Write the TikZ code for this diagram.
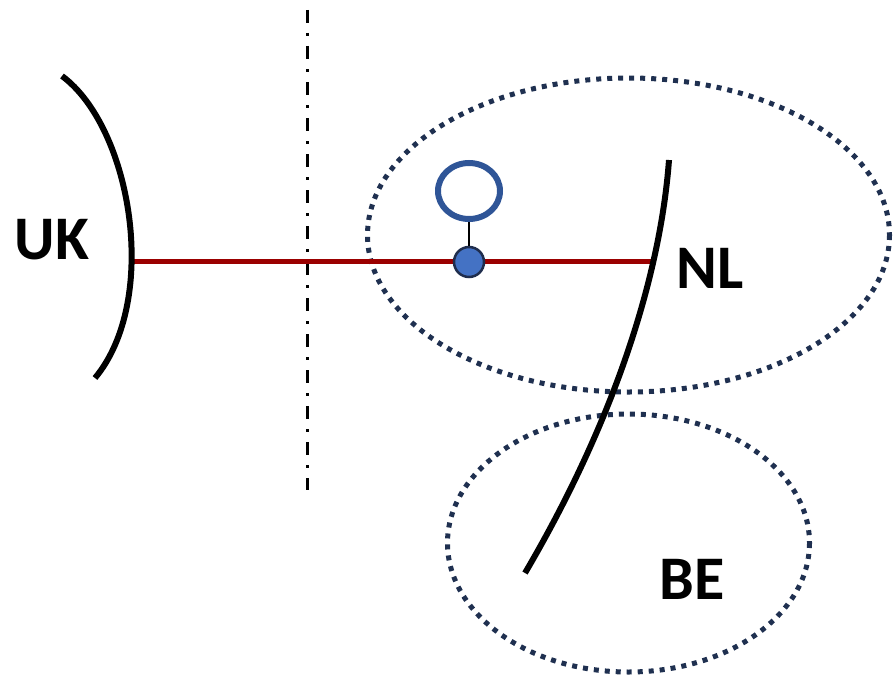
\documentclass[tikz,border=0pt]{standalone}
\usepackage{fontspec}
\setmainfont{Carlito}
\usetikzlibrary{shapes.geometric}
\definecolor{linkred}{RGB}{155,0,0}
\definecolor{zonenavy}{RGB}{31,48,80}
\definecolor{nodeblue}{RGB}{68,114,196}
\definecolor{nodeedge}{RGB}{31,45,77}
\definecolor{ringblue}{RGB}{47,85,151}
\begin{document}
\begin{tikzpicture}[x=1pt,y=-1pt,
  border/.style={line width=6pt,black},
  zone/.style={line width=5pt,zonenavy,dash pattern=on 5pt off 6pt},
  label/.style={font=\fontsize{62}{64}\selectfont\bfseries,inner sep=0pt,anchor=center},
  link/.style={line width=5pt,linkred}]
\useasboundingbox (0,0) rectangle (893,677);
% zones
\draw[zone] (628.5,235) ellipse [x radius=261, y radius=157];
\draw[zone] (628.5,543) ellipse [x radius=181, y radius=129];
% dash-dot boundary
\coordinate (bt) at (307,10);
\coordinate (bb) at (307,490);
\draw[line width=3pt,dash pattern=on 13pt off 10pt on 3pt off 10pt] (bt) -- (bb);
% link
\coordinate (ukp) at (132,261);
\coordinate (nlp) at (655,261);
\draw[link] (ukp) -- (nlp);
% coast lines
\draw[border] (62,76) .. controls (132,128) and (160,300) .. (95,378);
\draw[border] (669,160) .. controls (660,280) and (612,425) .. (525,573);
% converter
\node[circle,draw=nodeedge,fill=nodeblue,line width=2.5pt,minimum size=30pt,inner sep=0pt] (conv) at (469,262) {};
\node[ellipse,draw=ringblue,line width=6pt,minimum width=62pt,minimum height=56pt,inner sep=0pt] (ring) at (469,191) {};
\draw[line width=2.5pt] (conv.north) -- (ring.south);
% labels
\node[label] (uk) at (52,240) {UK};
\node[label] (nl) at (710,268) {NL};
\node[label] (be) at (692,579) {BE};
\end{tikzpicture}
\end{document}
